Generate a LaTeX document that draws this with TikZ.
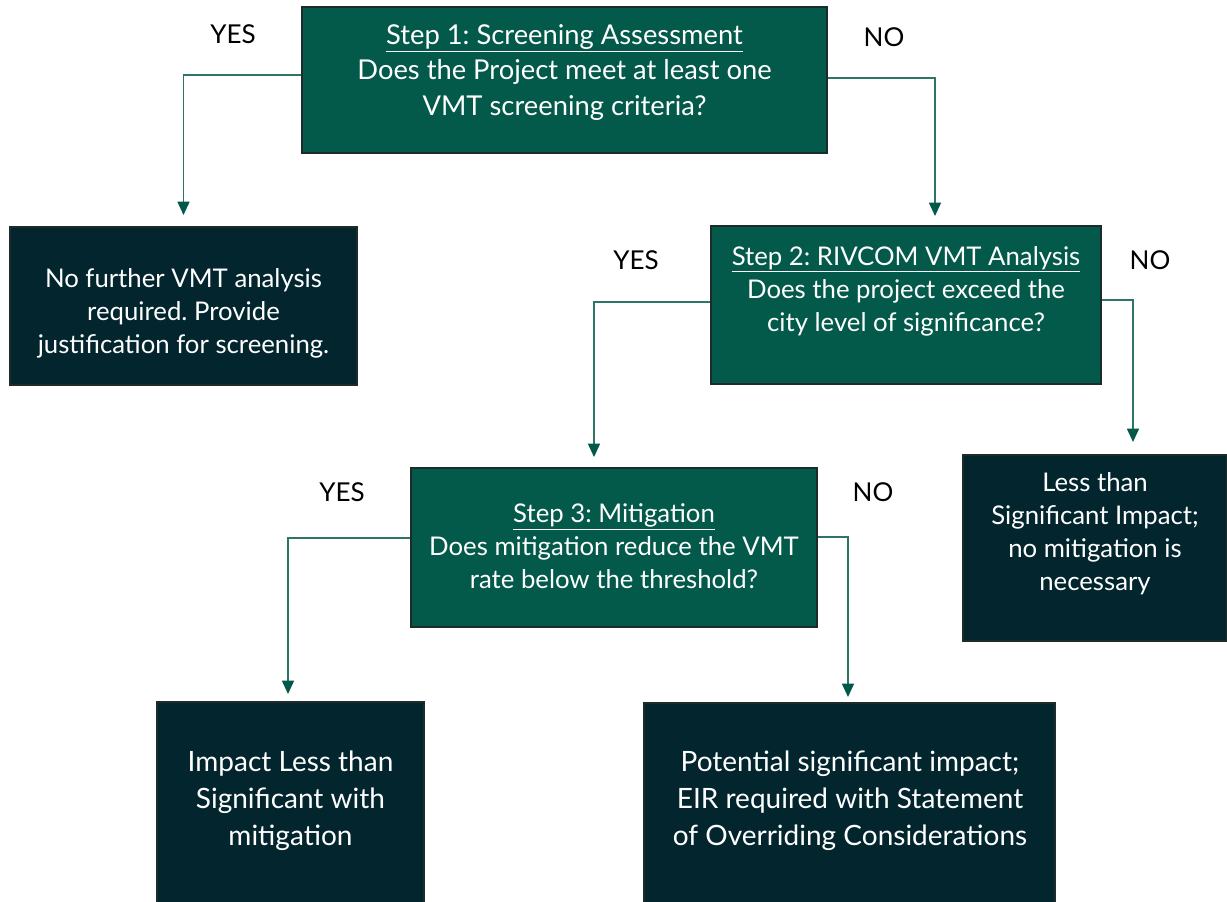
\documentclass[tikz,border=0pt]{standalone}
\usepackage{fontspec}
\setmainfont{Lato}
\usetikzlibrary{arrows.meta,calc}
\definecolor{boxgreen}{HTML}{03594A}
\definecolor{boxdark}{HTML}{02252E}
\definecolor{edgecol}{HTML}{1D2C2B}
\definecolor{linecol}{HTML}{2E7468}
\definecolor{tipcol}{HTML}{02594A}
\frenchspacing
\begin{document}
\begin{tikzpicture}[x=0.75pt,y=-0.75pt,
  gbox/.style={draw=edgecol,line width=1.5pt,fill=boxgreen,rectangle,inner sep=0pt},
  dbox/.style={draw=edgecol,line width=1.5pt,fill=boxdark,rectangle,inner sep=0pt},
  txt/.style={text=white,align=center,inner sep=0pt,font=\fontsize{19.3}{24.75}\selectfont},
  toptxt/.style={text=white,align=center,inner sep=0pt,font=\fontsize{20.5}{26.5}\selectfont},
  bigtxt/.style={text=white,align=center,inner sep=0pt,font=\fontsize{21}{27.75}\selectfont},
  lbl/.style={text=black,inner sep=0pt,font=\fontsize{19.5}{22}\selectfont},
  conn/.style={draw=linecol,line width=1.1pt,-{Triangle[width=9pt,length=10pt,color=tipcol]}}]
\useasboundingbox (0,0) rectangle (1227,901);

% boxes
\node[gbox,minimum width=393.75pt,minimum height=109.5pt] (b1) at (564.5,80) {};
\node[dbox,minimum width=260.25pt,minimum height=118.5pt] (b4) at (183.5,306) {};
\node[gbox,minimum width=292.5pt,minimum height=118.5pt] (b2) at (906,305) {};
\node[dbox,minimum width=198pt,minimum height=139.5pt] (b5) at (1095,548) {};
\node[gbox,minimum width=304.5pt,minimum height=119.25pt] (b3) at (614,547.5) {};
\node[dbox,minimum width=200.25pt,minimum height=152.25pt] (b6) at (290.5,803.5) {};
\node[dbox,minimum width=308.25pt,minimum height=151.5pt] (b7) at (849.5,804) {};

% texts
\node[toptxt] (t1) at (564.5,72.5) {\underline{Step 1: Screening Assessment}\\Does the Project meet at least one\\VMT screening criteria?};
\node[txt] (t4) at (183.5,313) {No further VMT analysis\\required. Provide\\justification for screening.};
\node[txt] (t2) at (906,291) {\underline{Step 2: RIVCOM VMT Analysis}\\Does the project exceed the\\city level of significance?};
\node[txt] (t5) at (1095,534) {Less than\\Significant Impact;\\no mitigation is\\necessary};
\node[txt] (t3) at (614,546) {\underline{Step 3: Mitigation}\\Does mitigation reduce the VMT\\rate below the threshold?};
\node[bigtxt] (t6) at (290.5,801) {Impact Less than\\Significant with\\mitigation};
\node[bigtxt] (t7) at (850,801) {Potential significant impact;\\EIR required with Statement\\of Overriding Considerations};

% labels
\node[lbl] (y1) at (233,34) {YES};
\node[lbl] (n1) at (884,37) {NO};
\node[lbl] (y2) at (636,260) {YES};
\node[lbl] (n2) at (1150,260) {NO};
\node[lbl] (y3) at (342,492) {YES};
\node[lbl] (n3) at (873,492) {NO};

% connectors
\draw[conn] ($(b1.west)+(0,-5)$) -| ($(b4.north)+(0,-11)$);
\draw[conn] ($(b1.east)+(0,-2)$) -| ($(b2.north)+(29,-9)$);
\draw[conn] ($(b2.west)+(0,-3)$) -| ($(b3.north)+(-20,-10)$);
\draw[conn] ($(b2.east)+(0,-5)$) -| ($(b5.north)+(38,-12)$);
\draw[conn] ($(b3.west)+(0,-9.5)$) -| ($(b6.north)+(-2.5,-7)$);
\draw[conn] ($(b3.east)+(0,-10.5)$) -| ($(b7.north)+(-1.5,-5)$);
\end{tikzpicture}
\end{document}
